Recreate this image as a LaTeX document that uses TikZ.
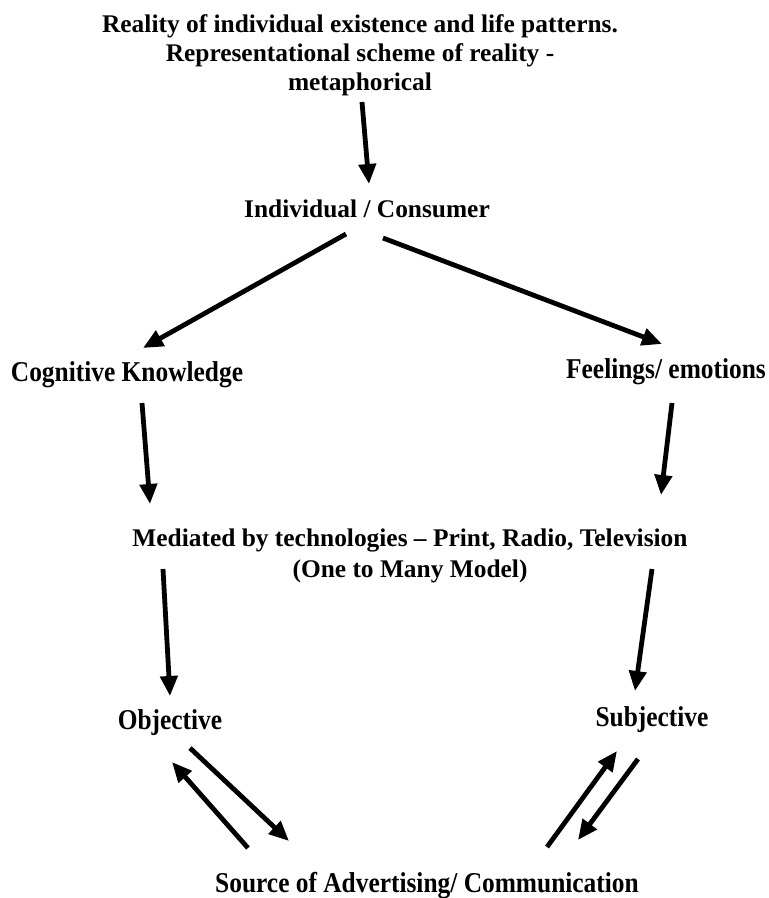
\documentclass[tikz,border=0pt]{standalone}
\usepackage{fontspec}
\setmainfont{Liberation Serif}
\usepackage{graphicx}
\usetikzlibrary{arrows.meta}
\newcommand\tallx[1]{\scalebox{1}[1.13]{#1}}
\begin{document}
\begin{tikzpicture}[x=1pt,y=-1pt,
  lbl/.style={font=\bfseries\fontsize{25.4}{29}\selectfont, inner sep=0pt, anchor=base},
  arr/.style={line width=4.8pt, -{Triangle[length=20pt,width=17pt]}}]
\useasboundingbox[fill=white] (0,0) rectangle (769,898);
% texts
\node[lbl] (top1) at (360,32) {Reality of individual existence and life patterns.};
\node[lbl] (top2) at (360,61) {Representational scheme of reality -};
\node[lbl] (top3) at (360,90) {metaphorical};
\node[lbl] (ind) at (367,217) {Individual / Consumer};
\node[lbl] (cog) at (127,381) {\tallx{Cognitive Knowledge}};
\node[lbl] (feel) at (666,378) {\tallx{Feelings/ emotions}};
\node[lbl] (med1) at (410,546) {Mediated by technologies – Print, Radio, Television};
\node[lbl] (med2) at (410,577) {(One to Many Model)};
\node[lbl] (obj) at (170,729) {\tallx{Objective}};
\node[lbl] (subj) at (652,726) {\tallx{Subjective}};
\node[lbl] (src) at (427,892) {\tallx{Source of Advertising/ Communication}};
% arrow end points
\coordinate (a1s) at (362,102);  \coordinate (a1e) at (369,184);
\coordinate (a2s) at (346,234);  \coordinate (a2e) at (143,348);
\coordinate (a3s) at (383,238);  \coordinate (a3e) at (662,344);
\coordinate (a4s) at (142,403);  \coordinate (a4e) at (150,504);
\coordinate (a5s) at (672,403);  \coordinate (a5e) at (661,495);
\coordinate (a6s) at (163,569);  \coordinate (a6e) at (170,696);
\coordinate (a7s) at (652,569);  \coordinate (a7e) at (635,691);
\coordinate (a8s) at (190,748);  \coordinate (a8e) at (289,841);
\coordinate (a9s) at (248,848);  \coordinate (a9e) at (172,762);
\coordinate (b1s) at (547,847);  \coordinate (b1e) at (617,751);
\coordinate (b2s) at (638,759);  \coordinate (b2e) at (578,840);
% arrows
\foreach \p in {a1,a2,a3,a4,a5,a6,a7,a8,a9,b1,b2}
  \draw[arr] (\p s) -- (\p e);
\end{tikzpicture}
\end{document}
